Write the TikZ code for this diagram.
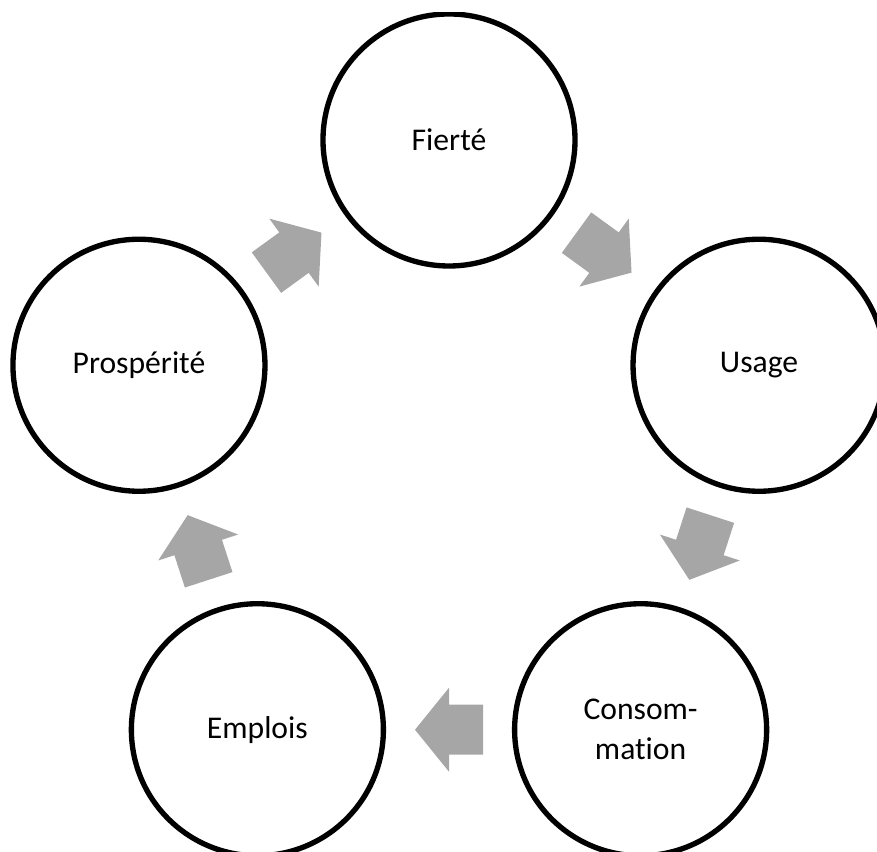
\documentclass[tikz,border=0pt]{standalone}
\usepackage{fontspec}
\setmainfont{Carlito}[Ligatures=NoCommon]
\usetikzlibrary{calc}
\definecolor{arrowgray}{RGB}{166,166,166}

\tikzset{flow/.pic={
    \fill[arrowgray] (-34,25) -- (0,25) -- (0,42) -- (34,0) -- (0,-42)
                     -- (0,-25) -- (-34,-25) -- cycle;}}

\begin{document}
\begin{tikzpicture}[x=0.03cm,y=0.03cm,
    stage/.style={circle,draw=black,line width=0.16cm,minimum size=7.56cm,
                  inner sep=0pt,align=center,
                  font=\fontsize{27}{34}\selectfont}]

        \useasboundingbox (0,0) rectangle (877,852);
        \clip (0,0) rectangle (877,839);

        \coordinate (mid) at (449,386);

        \node[stage] (fie) at ($(mid)+(90:326)$)   {Fierté};
        \node[stage] (usa) at ($(mid)+(18:326)$)   {Usage};
        \node[stage] (con) at ($(mid)+(-54:326)$)  {Consom-\\mation};
        \node[stage] (emp) at ($(mid)+(-126:326)$) {Emplois};
        \node[stage] (pro) at ($(mid)+(162:326)$)  {Prospérité};

        % block arrows, clockwise
        \foreach \a/\b/\ang in {fie/usa/-36, usa/con/-108, con/emp/180,
                                emp/pro/108, pro/fie/36}
          \pic[rotate=\ang] at ($(\a)!0.5!(\b)$) {flow};
      \end{tikzpicture}
\end{document}
